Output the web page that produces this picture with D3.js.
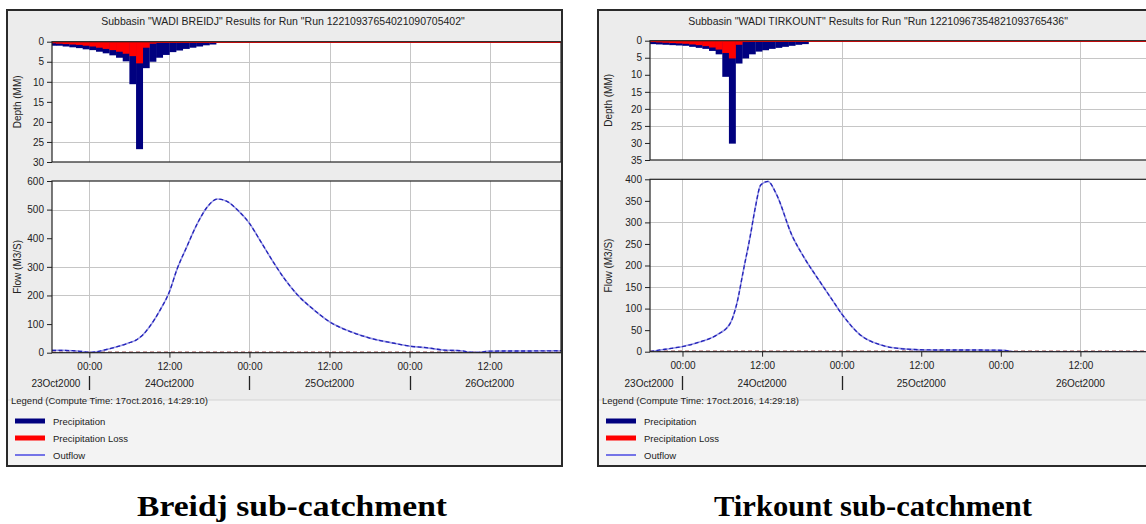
<!DOCTYPE html>
<html><head><meta charset="utf-8">
<script src="https://cdn.jsdelivr.net/npm/d3@7"></script>
<style>
html,body{margin:0;padding:0;background:#fff;overflow:hidden;}
</style></head><body>
<svg id="c" width="1146" height="524" font-family="'Liberation Sans',Arial,sans-serif"></svg>
<script>
// ---------- DATA (hours relative to 24Oct2000 00:00) ----------
const precipHours = [-6,-5,-4,-3,-2,-1,0,1,2,3,4,5,6,7,8,9,10,11,12,13,14,15,16,17,18];
const breidjPrecip = [1.0,1.0,1.2,1.4,1.6,1.9,2.1,2.5,2.9,3.4,4.0,4.9,10.6,26.8,6.6,5.0,4.0,3.3,2.6,2.2,1.8,1.5,1.2,0.9,0.7];
const breidjLoss   = [0.4,0.5,0.6,0.7,0.8,1.0,1.2,1.5,1.8,2.1,2.5,3.0,3.6,5.4,1.5,0.5,0.3,0.2,0.1,0.1,0.1,0.1,0.1,0.1,0.1];
const tirkountPrecip = [0.9,1.0,1.1,1.2,1.3,1.4,1.5,1.8,2.1,2.4,3.0,4.0,10.6,30.2,6.7,5.2,4.0,3.2,2.8,2.4,2.1,1.8,1.5,1.2,1.0];
const tirkountLoss   = [0.3,0.4,0.5,0.6,0.7,0.8,0.9,1.1,1.3,1.6,2.0,2.6,3.6,5.2,1.2,0.4,0.2,0.1,0.05,0.05,0.05,0.05,0.05,0.05,0.05];

const breidjFlowHours = [-5.6,-4,-2.5,-1,0,1,2,4,6,7,8,9,10.6,12,13.1,14.6,16.2,17.7,19.2,20.7,22.2,24,25.7,27.7,29.2,31.2,33.7,36,39.2,42.2,45.7,48,50.7,53.2,55.7,57,58.5,59.5,62,66,70.7];
const breidjFlow      = [8,8,7,4,1,3,8,20,35,44,62,90,149,213,289,370,452,510,537,528,499,452,388,312,260,202,149,108,73,50,33,23,17,9,7,2,1,5,6,6,7];
const tirkountFlowHours = [-4.9,-3.4,-2,0,2.7,5.2,7.2,8.2,9.2,10.2,11,11.8,12.9,14.2,16.5,18.2,20.7,22.5,24,26.8,29.8,33.8,38,44,48.5,50,71.7];
const tirkountFlow      = [0,4,7,12,23,39,66,112,190,267,336,387,395,364,270,222,163,122,88,39,16,6,4,4,3,0,0];

const timeTickHours = [0,12,24,36,48,60];
const breidjDepthTicks = [0,5,10,15,20,25,30];
const breidjFlowTicks = [0,100,200,300,400,500,600];
const tirkountDepthTicks = [0,5,10,15,20,25,30,35];
const tirkountFlowTicks = [0,50,100,150,200,250,300,350,400];
const dayLabels = ["23Oct2000","24Oct2000","25Oct2000","26Oct2000"];
const legendNames = ["Precipitation","Precipitation Loss","Outflow"];
const captions = ["Breidj sub-catchment","Tirkount sub-catchment"];
const titles = ['Subbasin "WADI BREIDJ" Results for Run "Run 12210937654021090705402"',
                'Subbasin "WADI TIRKOUNT" Results for Run "Run 12210967354821093765436"'];
const computeTimes = ["Legend (Compute Time: 17oct.2016, 14:29:10)","Legend (Compute Time: 17oct.2016, 14:29:18)"];

// ---------- DRAW ----------
const base = Date.UTC(2000, 9, 24);
const H = h => new Date(base + h * 3600e3);
const svg = d3.select("#c");

const panels = [
  {x0:7, y0:10, w:555, h:456, plotL:52, plotR:561, topT:41.7, topB:162, botT:181, botB:352.7,
   hStart:-5.6, hEnd:70.7, depthMax:30, flowMax:600, depthTicks:breidjDepthTicks, flowTicks:breidjFlowTicks,
   depthGrid:[5,10,25], flowGrid:[200,300,500], vGrid:[0,12,24,36,48,60], seps:[0,24,48],
   precip:breidjPrecip, loss:breidjLoss, fh:breidjFlowHours, fv:breidjFlow, title:titles[0], legend:computeTimes[0], titleX:283},
  {x0:598, y0:10, w:570, h:456, plotL:650, plotR:1158, topT:40.7, topB:160, botT:179.3, botB:351.7,
   hStart:-4.9, hEnd:71.7, depthMax:35, flowMax:400, depthTicks:tirkountDepthTicks, flowTicks:tirkountFlowTicks,
   depthGrid:[5,15,20,25], flowGrid:[100,150,200,300], vGrid:[0,12,24,60], seps:[0,24],
   precip:tirkountPrecip, loss:tirkountLoss, fh:tirkountFlowHours, fv:tirkountFlow, title:titles[1], legend:computeTimes[1], titleX:878}
];

panels.forEach((p, pi) => {
  const g = svg.append("g");
  g.append("rect").attr("x", p.x0).attr("y", p.y0).attr("width", p.w).attr("height", p.h)
    .attr("fill", "#ececec");
  // legend area
  g.append("rect").attr("x", p.x0).attr("y", 400).attr("width", p.w).attr("height", p.y0 + p.h - 400)
    .attr("fill", "#f3f3f3");
  g.append("line").attr("x1", p.x0).attr("x2", p.x0 + p.w).attr("y1", 400).attr("y2", 400)
    .attr("stroke", "#d4d4d4");

  const x = d3.scaleTime().domain([H(p.hStart), H(p.hEnd)]).range([p.plotL, p.plotR]);
  const yD = d3.scaleLinear().domain([0, p.depthMax]).range([p.topT, p.topB]);
  const yF = d3.scaleLinear().domain([0, p.flowMax]).range([p.botB, p.botT]);

  const clipId = "clip" + pi;
  const cp = svg.append("clipPath").attr("id", clipId);
  cp.append("rect").attr("x", p.plotL).attr("y", p.topT).attr("width", p.plotR - p.plotL).attr("height", p.topB - p.topT);
  cp.append("rect").attr("x", p.plotL).attr("y", p.botT).attr("width", p.plotR - p.plotL).attr("height", p.botB - p.botT);

  [[p.topT, p.topB], [p.botT, p.botB]].forEach(([t, b]) => {
    g.append("rect").attr("x", p.plotL).attr("y", t).attr("width", p.plotR - p.plotL).attr("height", b - t).attr("fill", "#fff");
  });
  const grid = g.append("g").attr("stroke", "#c6c6c6").attr("stroke-width", 1);
  p.vGrid.forEach(h => {
    const xx = Math.round(x(H(h))) + 0.5;
    grid.append("line").attr("x1", xx).attr("x2", xx).attr("y1", p.topT).attr("y2", p.topB);
    grid.append("line").attr("x1", xx).attr("x2", xx).attr("y1", p.botT).attr("y2", p.botB);
  });
  p.depthGrid.forEach(v => {
    const yy = Math.round(yD(v)) + 0.5;
    grid.append("line").attr("x1", p.plotL).attr("x2", p.plotR).attr("y1", yy).attr("y2", yy);
  });
  p.flowGrid.forEach(v => {
    const yy = Math.round(yF(v)) + 0.5;
    grid.append("line").attr("x1", p.plotL).attr("x2", p.plotR).attr("y1", yy).attr("y2", yy);
  });

  const data = g.append("g").attr("clip-path", `url(#${clipId})`);
  data.selectAll(".pb").data(precipHours.map((h, i) => ({h, v: p.precip[i]}))).join("rect")
    .attr("x", d => x(H(d.h))).attr("width", d => x(H(d.h + 1)) - x(H(d.h)) + 0.3)
    .attr("y", yD(0)).attr("height", d => yD(d.v) - yD(0)).attr("fill", "#00007f");
  data.selectAll(".lb").data(precipHours.map((h, i) => ({h, v: p.loss[i]}))).join("rect")
    .attr("x", d => x(H(d.h))).attr("width", d => x(H(d.h + 1)) - x(H(d.h)) + 0.3)
    .attr("y", yD(0)).attr("height", d => yD(d.v) - yD(0)).attr("fill", "#ff0000");
  data.append("line").attr("x1", p.plotL).attr("x2", p.plotR).attr("y1", yD(0) + 0.5).attr("y2", yD(0) + 0.5)
    .attr("stroke", "#ff0000").attr("stroke-width", 1.5);

  const pts = p.fh.map((h, i) => [H(h), p.fv[i]]);
  const line = d3.line().x(d => x(d[0])).y(d => yF(d[1])).curve(d3.curveMonotoneX);
  data.append("line").attr("x1", p.plotL).attr("x2", p.plotR).attr("y1", yF(0) - 0.5).attr("y2", yF(0) - 0.5)
    .attr("stroke", "#9a4a4a").attr("stroke-width", 1.2).attr("stroke-dasharray", "4,3");
  data.append("path").attr("d", line(pts)).attr("fill", "none").attr("stroke", "#9c9ce6").attr("stroke-width", 1.6);
  data.append("path").attr("d", line(pts)).attr("fill", "none").attr("stroke", "#2222b8").attr("stroke-width", 1.3)
    .attr("stroke-dasharray", "4,2.5");

  [[p.topT, p.topB], [p.botT, p.botB]].forEach(([t, b]) => {
    g.append("rect").attr("x", p.plotL).attr("y", t).attr("width", p.plotR - p.plotL).attr("height", b - t)
      .attr("fill", "none").attr("stroke", "#222").attr("stroke-width", 1.2);
  });

  const styleAxis = sel => {
    sel.select(".domain").remove();
    sel.attr("font-family", null);
    sel.selectAll("text").attr("font-size", 10).attr("fill", "#222");
    sel.selectAll(".tick line").attr("stroke", "#222");
  };
  g.append("g").attr("transform", `translate(${p.plotL},0)`)
    .call(d3.axisLeft(yD).tickValues(p.depthTicks).tickSize(5).tickPadding(3)).call(styleAxis);
  g.append("g").attr("transform", `translate(${p.plotL},0)`)
    .call(d3.axisLeft(yF).tickValues(p.flowTicks).tickSize(5).tickPadding(3)).call(styleAxis);
  g.append("g").attr("transform", `translate(0,${p.botB})`)
    .call(d3.axisBottom(x).tickValues(timeTickHours.map(H)).tickFormat(d3.utcFormat("%H:%M")).tickSize(5).tickPadding(5))
    .call(styleAxis);

  const dateY = 387;
  g.append("text").attr("x", x(H(0)) - 9).attr("y", dateY).attr("text-anchor", "end")
    .attr("font-size", 10).attr("fill", "#222").text(dayLabels[0]);
  [12, 36, 60].forEach((h, i) => {
    if (x(H(h)) < p.plotR)
      g.append("text").attr("x", x(H(h))).attr("y", dateY).attr("text-anchor", "middle")
        .attr("font-size", 10).attr("fill", "#222").text(dayLabels[i + 1]);
  });
  p.seps.forEach(h => {
    const xx = Math.round(x(H(h))) + 0.5;
    g.append("line").attr("x1", xx).attr("x2", xx).attr("y1", 376).attr("y2", 390).attr("stroke", "#222").attr("stroke-width", 1.3);
  });

  g.append("text").attr("transform", `translate(${p.x0 + 14},${(p.topT + p.topB) / 2}) rotate(-90)`)
    .attr("text-anchor", "middle").attr("font-size", 10).attr("fill", "#222").text("Depth (MM)");
  g.append("text").attr("transform", `translate(${p.x0 + 14},${(p.botT + p.botB) / 2}) rotate(-90)`)
    .attr("text-anchor", "middle").attr("font-size", 10).attr("fill", "#222").text("Flow (M3/S)");

  g.append("text").attr("x", p.titleX).attr("y", 25).attr("text-anchor", "middle")
    .attr("font-size", 10.5).attr("fill", "#222").text(p.title);

  g.append("text").attr("x", p.x0 + 4).attr("y", 404).attr("font-size", 9.5).attr("fill", "#222").text(p.legend);
  const lg = [{c:"#00007f", w:5}, {c:"#ff0000", w:5}, {c:"#2020e0", w:1.2}];
  lg.forEach((s, i) => {
    const yy = 421 + i * 17;
    g.append("line").attr("x1", p.x0 + 8).attr("x2", p.x0 + 38).attr("y1", yy).attr("y2", yy)
      .attr("stroke", s.c).attr("stroke-width", s.w);
    g.append("text").attr("x", p.x0 + 46).attr("y", yy + 3.5).attr("font-size", 9.5).attr("fill", "#222").text(legendNames[i]);
  });

  g.append("rect").attr("x", p.x0).attr("y", p.y0).attr("width", p.w).attr("height", p.h)
    .attr("fill", "none").attr("stroke", "#2a2a2a").attr("stroke-width", 2);
});

[[292, 0, 310], [873, 1, 318]].forEach(([cx, i, len]) => {
  svg.append("text").attr("x", cx).attr("y", 516).attr("text-anchor", "middle")
    .style("font-family", "'Liberation Serif','Times New Roman',serif").style("font-weight", "bold")
    .style("font-size", "29px").attr("textLength", len).attr("lengthAdjust", "spacingAndGlyphs")
    .attr("fill", "#000").text(captions[i]);
});
</script>
</body></html>
